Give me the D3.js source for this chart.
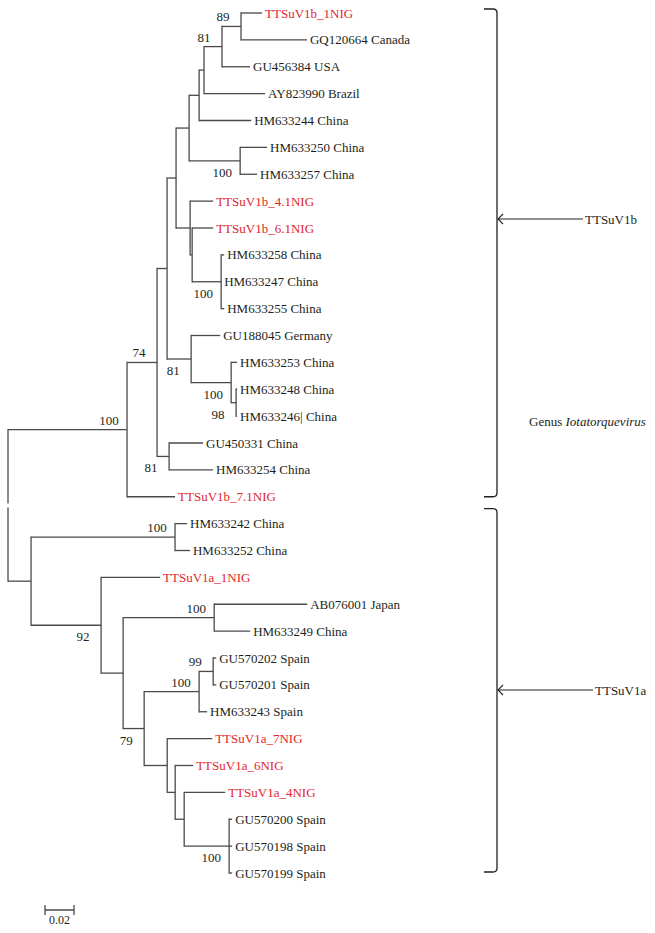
<!DOCTYPE html>
<meta charset="utf-8">
<head>
<script src="https://d3js.org/d3.v7.min.js"></script>
<style>
  body { margin: 0; background: #fff; }
  text { font-family: "Liberation Serif", "Times New Roman", serif; fill: #231f20; }
</style>
</head>
<body>
<svg id="tree" width="655" height="933"></svg>
<script>

// leaf order, top to bottom
var leaves = [
  "TTSuV1b_1NIG", "GQ120664 Canada", "GU456384 USA", "AY823990 Brazil", "HM633244 China",
  "HM633250 China", "HM633257 China", "TTSuV1b_4.1NIG", "TTSuV1b_6.1NIG", "HM633258 China",
  "HM633247 China", "HM633255 China", "GU188045 Germany", "HM633253 China", "HM633248 China",
  "HM633246| China", "GU450331 China", "HM633254 China", "TTSuV1b_7.1NIG",
  "HM633242 China", "HM633252 China", "TTSuV1a_1NIG", "AB076001 Japan", "HM633249 China",
  "GU570202 Spain", "GU570201 Spain", "HM633243 Spain", "TTSuV1a_7NIG", "TTSuV1a_6NIG",
  "TTSuV1a_4NIG", "GU570200 Spain", "GU570198 Spain", "GU570199 Spain"
];

// [child, parent, branch length]
var edges = [
  ["Q", "root", 0.0821], ["S", "root", 0.0159],
  ["P", "Q", 0.0207], ["TTSuV1b_7.1NIG", "Q", 0.0331],
  ["J", "P", 0.0069], ["O", "P", 0.0083],
  ["I", "J", 0.0062], ["K", "J", 0.0166],
  ["F", "I", 0.0090], ["H", "I", 0.0097],
  ["D", "F", 0.0069], ["E", "F", 0.0352],
  ["C", "D", 0.0034], ["HM633244 China", "D", 0.0359],
  ["B", "C", 0.0124], ["AY823990 Brazil", "C", 0.0421],
  ["A", "B", 0.0131], ["GU456384 USA", "B", 0.0193],
  ["TTSuV1b_1NIG", "A", 0.0145], ["GQ120664 Canada", "A", 0.0455],
  ["HM633250 China", "E", 0.0186], ["HM633257 China", "E", 0.0117],
  ["TTSuV1b_4.1NIG", "H", 0.0159], ["H1", "H", 0.0014],
  ["TTSuV1b_6.1NIG", "H1", 0.0145], ["G", "H1", 0.0200],
  ["HM633258 China", "G", 0.0021], ["HM633247 China", "G", 0.0000], ["HM633255 China", "G", 0.0021],
  ["GU188045 Germany", "K", 0.0200], ["M", "K", 0.0276],
  ["HM633253 China", "M", 0.0041], ["N", "M", 0.0034],
  ["HM633248 China", "N", 0.0007], ["HM633246| China", "N", 0.0007],
  ["GU450331 China", "O", 0.0234], ["HM633254 China", "O", 0.0303],
  ["R", "S", 0.0993], ["T", "S", 0.0483],
  ["HM633242 China", "R", 0.0083], ["HM633252 China", "R", 0.0103],
  ["TTSuV1a_1NIG", "T", 0.0407], ["U", "T", 0.0152],
  ["V", "U", 0.0628], ["W", "U", 0.0145],
  ["AB076001 Japan", "V", 0.0641], ["HM633249 China", "V", 0.0248],
  ["X", "W", 0.0379], ["Y", "W", 0.0159],
  ["Z", "X", 0.0097], ["HM633243 Spain", "X", 0.0055],
  ["GU570202 Spain", "Z", 0.0021], ["GU570201 Spain", "Z", 0.0021],
  ["TTSuV1a_7NIG", "Y", 0.0310], ["AA", "Y", 0.0055],
  ["TTSuV1a_6NIG", "AA", 0.0124], ["BB", "AA", 0.0062],
  ["TTSuV1a_4NIG", "BB", 0.0283], ["CC", "BB", 0.0310],
  ["GU570200 Spain", "CC", 0.0021], ["GU570198 Spain", "CC", 0.0021], ["GU570199 Spain", "CC", 0.0021]
];

// [node, bootstrap, side]
var bootstrap = [
  ["A", 89, "up"], ["B", 81, "up"], ["E", 100, "down"], ["G", 100, "down"],
  ["K", 81, "down"], ["M", 100, "down"], ["N", 98, "down"], ["P", 74, "up"],
  ["O", 81, "down"], ["Q", 100, "up"], ["R", 100, "up"], ["T", 92, "down"],
  ["W", 79, "down"], ["V", 100, "up"], ["X", 100, "up"], ["Z", 99, "up"],
  ["CC", 100, "down"]
];

// clades marked with brackets
var clades = [
  { name: "TTSuV1b", first: "TTSuV1b_1NIG", last: "TTSuV1b_7.1NIG" },
  { name: "TTSuV1a", first: "HM633242 China", last: "GU570199 Spain" }
];
var genusLabel = "Iotatorquevirus";
var scaleBarValue = 0.02;

var svg = d3.select("#tree");
var lineColor = "#4a4a4a";
var red = "#e3262b";

var x = d3.scaleLinear().domain([0, 0.02]).range([8, 37]);
var y = d3.scalePoint().domain(leaves).range([13, 873]);

// build hierarchy
var table = [{ id: "root", parent: null, len: 0 }].concat(
  edges.map(function (e) { return { id: e[0], parent: e[1], len: e[2] }; })
);
var root = d3.stratify().id(function (d) { return d.id; }).parentId(function (d) { return d.parent; })(table);

root.eachBefore(function (n) {
  n.dist = n.parent ? n.parent.dist + n.data.len : 0;
});
root.eachAfter(function (n) {
  if (!n.children) { n.py = y(n.id); }
  else {
    var ys = n.children.map(function (c) { return c.py; });
    n.py = (d3.min(ys) + d3.max(ys)) / 2;
  }
});

var g = svg.append("g");

// horizontal branches
g.selectAll("line.h")
  .data(root.descendants().filter(function (n) { return n.parent; }))
  .enter().append("line")
  .attr("x1", function (n) { return x(n.parent.dist); })
  .attr("x2", function (n) { return x(n.dist); })
  .attr("y1", function (n) { return n.py; })
  .attr("y2", function (n) { return n.py; })
  .attr("stroke", lineColor).attr("stroke-width", 1.3);

// vertical connectors
g.selectAll("line.v")
  .data(root.descendants().filter(function (n) { return n.children && n.parent; }))
  .enter().append("line")
  .attr("x1", function (n) { return x(n.dist); })
  .attr("x2", function (n) { return x(n.dist); })
  .attr("y1", function (n) { return d3.min(n.children, function (c) { return c.py; }) - 0.65; })
  .attr("y2", function (n) { return d3.max(n.children, function (c) { return c.py; }) + 0.65; })
  .attr("stroke", lineColor).attr("stroke-width", 1.3);

// root connector, split at the root point
var rTop = d3.min(root.children, function (c) { return c.py; });
var rBot = d3.max(root.children, function (c) { return c.py; });
[[rTop - 0.65, root.py - 2], [root.py + 2, rBot + 0.65]].forEach(function (s) {
  g.append("line")
    .attr("x1", x(0)).attr("x2", x(0))
    .attr("y1", s[0]).attr("y2", s[1])
    .attr("stroke", lineColor).attr("stroke-width", 1.3);
});

// leaf labels
g.selectAll("text.leaf")
  .data(root.leaves())
  .enter().append("text")
  .attr("x", function (n) { return x(n.dist) + 3; })
  .attr("y", function (n) { return n.py; })
  .attr("dy", "0.35em")
  .attr("font-family", "Liberation Serif")
  .style("font-size", "13px")
  .style("fill", function (n) { return n.id.indexOf("NIG") >= 0 ? red : "#231f20"; })
  .text(function (n) { return n.id; });

// bootstrap values
var byId = {};
root.descendants().forEach(function (n) { byId[n.id] = n; });
g.selectAll("text.boot")
  .data(bootstrap)
  .enter().append("text")
  .attr("x", function (b) { return x(byId[b[0]].dist) - 18; })
  .attr("y", function (b) { return byId[b[0]].py + (b[2] === "up" ? -5 : 16); })
  .attr("text-anchor", "middle")
  .attr("font-family", "Liberation Serif")
  .style("font-size", "13px")
  .text(function (b) { return b[1]; });

// brackets with arrows
var bx = 497;
var bracketPad = [[-4, 0], [-15, -1]];
var arrowY = [219, 690];
var arrowEnd = [583, 593];
clades.forEach(function (c, i) {
  var t = y(c.first) + bracketPad[i][0];
  var b = y(c.last) + bracketPad[i][1];
  svg.append("path")
    .attr("d", "M484," + t + " L" + (bx - 4) + "," + t + " Q" + bx + "," + t + " " + bx + "," + (t + 4) +
      " L" + bx + "," + (b - 4) + " Q" + bx + "," + b + " " + (bx - 4) + "," + b + " L484," + b)
    .attr("fill", "none").attr("stroke", "#231f20").attr("stroke-width", 1.3);
  svg.append("line")
    .attr("x1", bx + 1).attr("x2", arrowEnd[i])
    .attr("y1", arrowY[i]).attr("y2", arrowY[i])
    .attr("stroke", "#231f20").attr("stroke-width", 1.1);
  svg.append("path")
    .attr("d", "M" + (bx + 6) + "," + (arrowY[i] - 5) + " L" + (bx + 1) + "," + arrowY[i] + " L" + (bx + 6) + "," + (arrowY[i] + 5))
    .attr("fill", "none").attr("stroke", "#231f20").attr("stroke-width", 1.1);
  svg.append("text")
    .attr("x", arrowEnd[i] + 2).attr("y", arrowY[i]).attr("dy", "0.35em")
    .attr("font-family", "Liberation Serif")
    .style("font-size", "13px")
    .text(c.name);
});

var genus = svg.append("text")
  .attr("x", 529).attr("y", 421).attr("dy", "0.35em")
  .attr("font-family", "Liberation Serif")
  .style("font-size", "13px");
genus.append("tspan").text("Genus ");
genus.append("tspan").style("font-style", "italic").text(genusLabel);

// scale bar
var sb = svg.append("g").attr("transform", "translate(0,910)");
var sx0 = 45, sx1 = 45 + (x(scaleBarValue) - x(0));
sb.append("line").attr("x1", sx0).attr("x2", sx1).attr("y1", 0).attr("y2", 0)
  .attr("stroke", lineColor).attr("stroke-width", 1.5);
[sx0, sx1].forEach(function (v) {
  sb.append("line").attr("x1", v).attr("x2", v).attr("y1", -5).attr("y2", 5)
    .attr("stroke", lineColor).attr("stroke-width", 1.3);
});
sb.append("text").attr("x", (sx0 + sx1) / 2).attr("y", 14)
  .attr("text-anchor", "middle")
  .attr("font-family", "Liberation Serif")
  .style("font-size", "12px")
  .text(scaleBarValue.toFixed(2));

</script>
</body>
